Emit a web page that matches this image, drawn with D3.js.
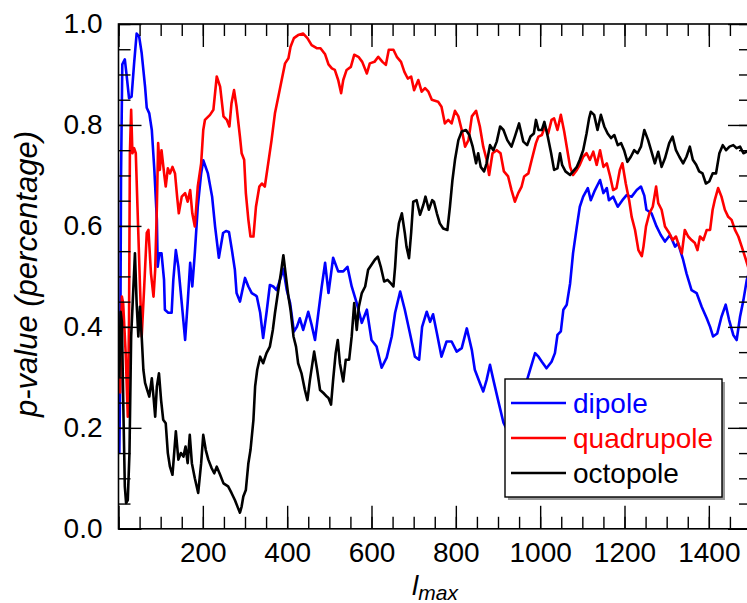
<!DOCTYPE html>
<html>
<head>
<meta charset="utf-8">
<script src="https://cdn.jsdelivr.net/npm/d3@7"></script>
<style>
  body { margin: 0; background: #fff; }
  text { font-family: "Liberation Sans", Arial, sans-serif; }
</style>
</head>
<body>
<svg id="chart"></svg>
<script>
const width = 747;
const height = 603;
const margin = { top: 24, right: -4, bottom: 74, left: 118.5 };

// [l, p] pairs
const dipole = [[2,0.15],[4,0.30],[6,0.70],[9,0.92],[15,0.93],[19,0.90],[25,0.853],[31,0.856],[37,0.922],[43,0.981],[49,0.975],[55,0.942],[63,0.876],[67,0.834],[73,0.823],[79,0.79],[85,0.711],[91,0.612],[93,0.519],[97,0.546],[102,0.546],[108,0.493],[110,0.434],[118,0.428],[126,0.428],[130,0.493],[136,0.552],[142,0.519],[150,0.447],[158,0.374],[164,0.447],[170,0.527],[175,0.48],[181,0.546],[188,0.638],[196,0.704],[201,0.73],[212,0.704],[222,0.658],[229,0.599],[238,0.537],[248,0.586],[255,0.59],[262,0.588],[269,0.552],[276,0.513],[280,0.467],[288,0.45],[300,0.497],[308,0.48],[316,0.467],[324,0.463],[328,0.46],[336,0.428],[343,0.378],[351,0.428],[359,0.483],[367,0.48],[375,0.473],[383,0.493],[391,0.515],[399,0.473],[407,0.447],[416,0.391],[423,0.40],[430,0.417],[438,0.394],[450,0.43],[458,0.404],[466,0.374],[474,0.428],[482,0.48],[490,0.527],[498,0.467],[509,0.537],[521,0.51],[533,0.51],[543,0.519],[553,0.48],[565,0.447],[577,0.408],[589,0.434],[600,0.374],[612,0.361],[624,0.319],[636,0.339],[648,0.381],[656,0.428],[668,0.47],[679,0.434],[691,0.388],[703,0.341],[713,0.335],[720,0.40],[731,0.43],[739,0.41],[746,0.425],[755,0.388],[766,0.341],[778,0.371],[790,0.371],[802,0.351],[814,0.358],[826,0.397],[838,0.354],[845,0.315],[857,0.289],[865,0.272],[873,0.295],[881,0.325],[889,0.295],[901,0.252],[913,0.21],[925,0.19],[945,0.22],[960,0.27],[976,0.315],[988,0.348],[996,0.341],[1004,0.331],[1015,0.318],[1027,0.331],[1035,0.348],[1041,0.384],[1049,0.391],[1055,0.434],[1063,0.444],[1071,0.486],[1078,0.546],[1087,0.599],[1094,0.638],[1102,0.658],[1113,0.675],[1120,0.651],[1130,0.671],[1142,0.691],[1150,0.665],[1158,0.675],[1163,0.651],[1173,0.658],[1184,0.638],[1195,0.651],[1205,0.661],[1217,0.658],[1229,0.671],[1239,0.678],[1247,0.66],[1252,0.632],[1264,0.625],[1276,0.599],[1286,0.582],[1296,0.569],[1308,0.582],[1320,0.559],[1327,0.566],[1339,0.533],[1347,0.506],[1359,0.473],[1371,0.467],[1383,0.44],[1395,0.417],[1403,0.40],[1410,0.381],[1420,0.387],[1430,0.42],[1440,0.444],[1448,0.414],[1458,0.384],[1466,0.374],[1474,0.42],[1482,0.453],[1490,0.493],[1500,0.52]];

const quadrupole = [[2,0.30],[4,0.27],[8,0.46],[11,0.447],[17,0.348],[22,0.222],[25,0.414],[27,0.744],[30,0.83],[33,0.744],[37,0.754],[41,0.744],[45,0.638],[51,0.48],[55,0.381],[61,0.48],[67,0.586],[71,0.592],[77,0.506],[83,0.46],[87,0.513],[91,0.638],[94,0.764],[98,0.711],[102,0.75],[109,0.698],[112,0.678],[117,0.714],[122,0.704],[128,0.717],[134,0.704],[139,0.658],[143,0.625],[150,0.658],[158,0.665],[164,0.648],[170,0.671],[175,0.625],[181,0.599],[188,0.678],[196,0.724],[201,0.79],[205,0.81],[217,0.82],[225,0.83],[233,0.896],[241,0.876],[249,0.817],[257,0.81],[263,0.797],[268,0.843],[274,0.869],[280,0.836],[288,0.777],[292,0.744],[298,0.731],[302,0.665],[308,0.612],[313,0.579],[320,0.579],[326,0.638],[334,0.678],[340,0.684],[347,0.678],[355,0.724],[363,0.77],[371,0.823],[379,0.856],[387,0.889],[395,0.922],[403,0.932],[408,0.955],[416,0.972],[426,0.978],[438,0.981],[448,0.972],[458,0.958],[470,0.952],[479,0.952],[490,0.94],[498,0.92],[506,0.912],[513,0.909],[521,0.889],[528,0.863],[533,0.889],[541,0.909],[551,0.915],[559,0.939],[569,0.935],[578,0.925],[589,0.902],[596,0.922],[607,0.925],[616,0.935],[626,0.925],[634,0.919],[641,0.949],[652,0.949],[660,0.935],[670,0.925],[678,0.905],[686,0.892],[694,0.896],[701,0.869],[711,0.889],[719,0.866],[727,0.873],[735,0.866],[743,0.85],[758,0.846],[766,0.836],[774,0.803],[782,0.81],[790,0.803],[798,0.828],[806,0.817],[814,0.79],[822,0.757],[830,0.77],[838,0.817],[848,0.828],[857,0.797],[865,0.757],[873,0.731],[879,0.701],[887,0.744],[897,0.75],[906,0.744],[914,0.708],[924,0.698],[932,0.671],[940,0.648],[948,0.665],[956,0.678],[962,0.698],[972,0.704],[980,0.731],[990,0.764],[996,0.777],[1004,0.78],[1011,0.797],[1019,0.783],[1027,0.81],[1033,0.813],[1041,0.79],[1049,0.82],[1057,0.787],[1063,0.757],[1071,0.717],[1078,0.701],[1087,0.711],[1094,0.721],[1102,0.737],[1110,0.744],[1118,0.731],[1126,0.747],[1134,0.721],[1142,0.75],[1150,0.717],[1158,0.724],[1166,0.698],[1173,0.671],[1181,0.675],[1189,0.711],[1195,0.724],[1203,0.684],[1211,0.651],[1217,0.618],[1225,0.592],[1233,0.552],[1241,0.54],[1245,0.559],[1251,0.599],[1259,0.625],[1267,0.638],[1275,0.678],[1280,0.645],[1288,0.632],[1296,0.599],[1306,0.586],[1314,0.572],[1322,0.579],[1330,0.559],[1336,0.546],[1343,0.592],[1351,0.579],[1359,0.572],[1367,0.566],[1373,0.552],[1379,0.579],[1387,0.572],[1395,0.592],[1403,0.592],[1409,0.632],[1414,0.651],[1422,0.675],[1430,0.658],[1438,0.632],[1446,0.618],[1454,0.612],[1462,0.592],[1470,0.579],[1478,0.559],[1488,0.533],[1500,0.50]];

const octopole = [[2,0.30],[5,0.43],[8,0.41],[12,0.216],[15,0.084],[18,0.051],[22,0.057],[26,0.15],[30,0.381],[39,0.546],[43,0.447],[47,0.381],[51,0.44],[55,0.381],[59,0.315],[63,0.289],[68,0.275],[73,0.262],[79,0.298],[83,0.262],[87,0.222],[91,0.282],[96,0.308],[101,0.255],[106,0.216],[112,0.209],[117,0.15],[122,0.123],[128,0.107],[136,0.193],[142,0.137],[148,0.15],[154,0.143],[159,0.163],[164,0.13],[169,0.186],[174,0.13],[181,0.10],[189,0.071],[196,0.13],[201,0.186],[207,0.156],[213,0.137],[221,0.12],[227,0.11],[233,0.123],[241,0.107],[249,0.09],[260,0.084],[268,0.071],[276,0.057],[284,0.04],[288,0.032],[292,0.044],[296,0.064],[302,0.077],[308,0.13],[313,0.156],[320,0.216],[324,0.282],[329,0.315],[336,0.341],[343,0.328],[351,0.348],[359,0.361],[366,0.394],[371,0.427],[379,0.473],[385,0.506],[391,0.542],[397,0.5],[403,0.46],[408,0.434],[415,0.381],[421,0.361],[426,0.328],[434,0.308],[442,0.275],[448,0.255],[454,0.295],[464,0.351],[471,0.315],[478,0.275],[486,0.269],[494,0.262],[498,0.259],[504,0.246],[509,0.295],[515,0.348],[520,0.374],[525,0.328],[533,0.292],[539,0.335],[547,0.335],[553,0.381],[559,0.447],[565,0.394],[570,0.44],[577,0.467],[585,0.48],[592,0.513],[600,0.523],[608,0.533],[615,0.539],[622,0.519],[630,0.49],[638,0.493],[646,0.486],[652,0.48],[656,0.519],[660,0.572],[665,0.605],[672,0.625],[679,0.586],[683,0.559],[689,0.536],[694,0.586],[699,0.648],[707,0.651],[715,0.622],[723,0.642],[728,0.658],[736,0.632],[744,0.651],[748,0.648],[755,0.625],[762,0.605],[770,0.595],[780,0.592],[786,0.638],[792,0.691],[798,0.731],[806,0.77],[814,0.787],[824,0.79],[832,0.78],[840,0.757],[848,0.724],[853,0.744],[859,0.717],[867,0.708],[873,0.724],[881,0.76],[889,0.75],[897,0.767],[905,0.797],[913,0.79],[922,0.77],[932,0.757],[940,0.777],[950,0.803],[960,0.767],[969,0.76],[977,0.777],[985,0.783],[990,0.81],[996,0.79],[1004,0.79],[1010,0.806],[1018,0.777],[1026,0.744],[1033,0.711],[1041,0.714],[1047,0.744],[1052,0.721],[1060,0.708],[1071,0.701],[1078,0.708],[1087,0.717],[1094,0.731],[1102,0.75],[1110,0.783],[1116,0.813],[1120,0.826],[1128,0.82],[1136,0.79],[1144,0.82],[1152,0.797],[1160,0.783],[1168,0.774],[1176,0.78],[1184,0.76],[1192,0.764],[1199,0.75],[1207,0.727],[1215,0.737],[1223,0.75],[1231,0.744],[1239,0.757],[1247,0.79],[1256,0.77],[1264,0.747],[1272,0.724],[1280,0.747],[1288,0.717],[1296,0.734],[1306,0.764],[1314,0.777],[1322,0.75],[1330,0.737],[1339,0.724],[1347,0.737],[1355,0.757],[1362,0.731],[1370,0.721],[1377,0.708],[1385,0.704],[1393,0.684],[1401,0.688],[1409,0.704],[1417,0.704],[1425,0.744],[1433,0.76],[1441,0.75],[1449,0.757],[1458,0.76],[1466,0.754],[1474,0.757],[1482,0.744],[1490,0.747],[1500,0.75]];

const seriesNames = ["dipole", "quadrupole", "octopole"];
const seriesColors = ["#0000ff", "#ff0000", "#000000"];
const xMajorTicks = [0, 200, 400, 600, 800, 1000, 1200, 1400];
const xMinorTicks = d3.range(0, 1501, 50);
const yMajorTicks = [0, 0.2, 0.4, 0.6, 0.8, 1.0];
const yMinorTicks = d3.range(0, 1.001, 0.05);

const svg = d3.select("#chart")
    .attr("width", width)
    .attr("height", height);

const xScale = d3.scaleLinear()
    .domain([0, 1500])
    .range([margin.left, width - margin.right]);

const yScale = d3.scaleLinear()
    .domain([0, 1])
    .range([height - margin.bottom - 0.2, margin.top]);

svg.append("clipPath")
    .attr("id", "clip")
    .append("rect")
    .attr("x", margin.left)
    .attr("y", margin.top)
    .attr("width", xScale(1500) - margin.left)
    .attr("height", yScale(0) - margin.top);

// lines
const line = d3.line()
    .x(d => xScale(d[0]))
    .y(d => yScale(d[1]));

const allSeries = [dipole, quadrupole, octopole];
svg.append("g")
    .attr("clip-path", "url(#clip)")
    .selectAll("path")
    .data(allSeries)
    .enter()
    .append("path")
    .attr("d", line)
    .attr("fill", "none")
    .attr("stroke", (d, i) => seriesColors[i])
    .attr("stroke-width", 2.6)
    .attr("stroke-linejoin", "round");

// axes, ticks inward on all four sides
const y0 = yScale(0), x1 = xScale(1500);
function drawAxis(axis, transform, labels) {
    const g = svg.append("g")
        .attr("transform", transform)
        .call(axis);
    g.select(".domain").remove();
    g.selectAll("line").attr("stroke", "#000").attr("stroke-width", 1.4);
    g.selectAll("text")
        .attr("font-size", 28)
        .attr("fill", "#000")
        .attr("font-family", "Liberation Sans, Arial, sans-serif");
    if (!labels) g.selectAll("text").remove();
    return g;
}

drawAxis(d3.axisBottom(xScale).tickValues(xMinorTicks).tickSize(-12), `translate(0,${y0})`, false);
drawAxis(d3.axisBottom(xScale).tickValues(xMajorTicks).tickSize(-23).tickPadding(13)
    .tickFormat(d => d === 0 ? "" : d), `translate(0,${y0})`, true);
drawAxis(d3.axisTop(xScale).tickValues(xMinorTicks).tickSize(-12), `translate(0,${margin.top})`, false);
drawAxis(d3.axisTop(xScale).tickValues(xMajorTicks).tickSize(-23), `translate(0,${margin.top})`, false);

drawAxis(d3.axisLeft(yScale).tickValues(yMinorTicks).tickSize(-12), `translate(${margin.left},0)`, false);
drawAxis(d3.axisLeft(yScale).tickValues(yMajorTicks).tickSize(-23).tickPadding(16)
    .tickFormat(d3.format(".1f")), `translate(${margin.left},0)`, true);
drawAxis(d3.axisRight(yScale).tickValues(yMinorTicks).tickSize(-12), `translate(${x1},0)`, false);
drawAxis(d3.axisRight(yScale).tickValues(yMajorTicks).tickSize(-23), `translate(${x1},0)`, false);

// frame
svg.append("rect")
    .attr("x", margin.left)
    .attr("y", margin.top)
    .attr("width", x1 - margin.left)
    .attr("height", y0 - margin.top)
    .attr("fill", "none")
    .attr("stroke", "#000")
    .attr("stroke-width", 1.6);

// axis titles
svg.append("text")
    .attr("transform", "translate(37,274) rotate(-90)")
    .attr("text-anchor", "middle")
    .attr("font-size", 31)
    .attr("font-style", "italic")
    .text("p-value (percentage)");

const xt = svg.append("text")
    .attr("x", 412)
    .attr("y", 595)
    .attr("font-size", 28)
    .attr("font-style", "italic");
xt.append("tspan").text("l");
xt.append("tspan").attr("dy", 5).attr("font-size", 21).text("max");

// legend
const lg = { x: 505, y: 379, w: 217, h: 118 };
svg.append("rect")
    .attr("x", lg.x + 3).attr("y", lg.y + 3)
    .attr("width", lg.w).attr("height", lg.h)
    .attr("fill", "#999");
svg.append("rect")
    .attr("x", lg.x).attr("y", lg.y)
    .attr("width", lg.w).attr("height", lg.h)
    .attr("fill", "#fff")
    .attr("stroke", "#000")
    .attr("stroke-width", 1.4);

const rows = svg.selectAll(".legend-row")
    .data(seriesNames)
    .enter()
    .append("g")
    .attr("class", "legend-row")
    .attr("transform", (d, i) => `translate(${lg.x},${403 + i * 35})`);
rows.append("line")
    .attr("x1", 6).attr("x2", 61)
    .attr("stroke", (d, i) => seriesColors[i])
    .attr("stroke-width", 2.6);
rows.append("text")
    .attr("x", 68)
    .attr("dy", "0.35em")
    .attr("font-size", 28)
    .attr("fill", (d, i) => seriesColors[i])
    .text(d => d);
</script>
</body>
</html>
